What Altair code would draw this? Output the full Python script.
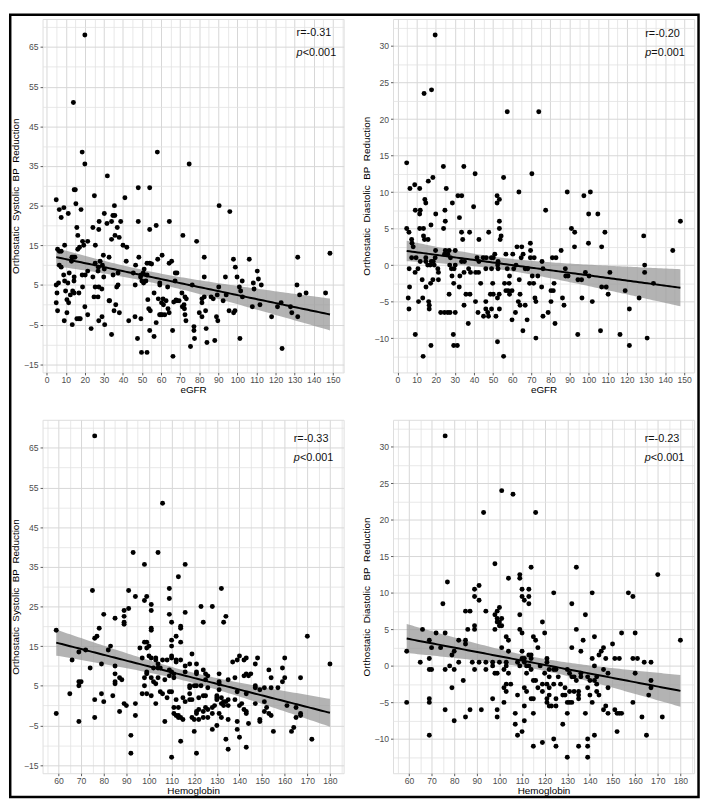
import altair as alt
import numpy as np
import pandas as pd

# ---------------- data ----------------
# Panel A: eGFR vs orthostatic systolic BP reduction
egfr_sys_x = [20,14,18.6,20,5,14.4,15,31.8,25,6.6,
    7.6,9,11.3,15.3,18,41,48,54,58,74.7,
    90.4,96,35.5,30.2,27.5,34,34.7,35.7,31.6,38.8,
    48,64.3,57.4,54,37,27.3,24.2,15.8,16.3,35.8,
    38,34,71.4,78.6,18.8,21.5,19.4,9.4,16.3,17.2,
    25.5,40,42,5.7,6.6,7.6,13.2,14,14.8,29.7,
    32.7,48.3,60.5,82.6,97.9,106.2,131.6,148.5,13,28,
    41.7,54,52.6,55,65.5,64.2,58.2,25.4,46.6,6.6,
    7.6,27.1,29.2,98.9,110.4,68.3,67.4,26.9,30.2,34.8,
    37.4,45.4,50.6,51.1,52.6,11.8,18.6,20.2,21.5,8.9,
    24.2,29.9,49.5,49.2,49.9,50.8,52,82.6,93.7,99.8,
    111,102.5,108.3,112.5,5,6.2,9.4,11.1,14.3,14.4,
    18.8,25.4,27.3,28.9,37.4,36.7,46.4,59.3,59.3,63.4,
    67.3,76.3,90.2,101,101.7,108.7,131.2,5.4,9.9,13.6,
    14.4,16.9,12.4,10.6,24.8,26.9,32.7,56.3,53,58.5,
    61,70.9,72.5,73.2,68.3,69.4,66.6,61.2,62.6,81.4,
    82.6,81.4,86.2,87.3,89.4,92.5,94.1,102.6,136,132.6,
    146.2,5,5.7,11.5,20,36.2,33,35.3,38.1,21.5,
    10.6,15.8,16.9,17.6,29,27.3,30.4,9.2,13.4,23.3,
    43,46.3,49.4,53.5,54.3,60.5,60.2,59.8,61.9,64.2,
    71.1,72.2,72,72.5,73,77.2,77.2,77.5,75.4,83.6,
    83.3,80,81.4,89,89.7,88.1,84,101.3,95.6,98,
    98.7,107.8,111.8,117.9,121,122.9,123.4,127.8,128.5,131.6,
    54,56.3,47.6,34,49.7,52.6,66.2,66,57.4,59.2,
    67.8,63.6]
egfr_sys_y = [68,51,38.5,35.5,26.5,29,29,32.5,27.5,24,
    22,24.5,23,25.5,24,27,29.5,29.5,38.5,35.5,
    25,23.5,25,23,21,21,22.5,22.5,20.5,21,
    21,21,20,19,19.5,19,19.5,19.5,17.5,17.5,
    17,16.5,17.5,16,16,16,15,15,14,14.5,
    15,15,14.5,14,13.5,13.5,12,12,12,12.5,
    12,12,12.5,12,11.5,11.5,12,13,11,11,
    11,10.5,10.5,10.3,11,10.5,11.5,10.5,10,10,
    9.5,9.5,10,9.5,8.5,8,8,8.5,9,7.5,
    8,8,8,9,7.5,8,7.5,7.5,8.5,7.5,
    7,7,7.5,7,6,5.5,6,7,7,7,
    6.5,6,5.5,5,5,5.5,6,5.5,6,7,
    4.5,4.5,4.5,4,5,4.5,5,5,5.5,4.5,
    6,5,4.5,4.5,3.5,4,5,3,3.5,3.5,
    3,3,2.5,1.3,2,2,1,3,1.3,1.5,
    1.5,3,2,1.5,1,1,0.7,0,1,1.5,
    2,0.5,2,1.5,2.5,1,2.5,2,3,2.5,
    3,0.5,-1.5,0.5,-0.5,0,1,-1.5,-2,-2.5,
    -2,-3.5,-3.5,-3.5,-3,-4,-5,-4,-5,-6,
    -4,-3,-3.5,-1,-1.5,-2.5,0.5,-2.5,-2.5,-2,
    -0.5,-1,0,-2.5,-4,-5.5,-6.5,-8.5,-10.5,-6,
    -1.5,-2,-3,-3,-4,-9,-9.5,-8.5,-1.5,-2,
    -1.5,-0.5,0,-3,-0.5,0.5,-11,-0.5,-2,-3,
    -6.5,-8,-8.5,-7.5,-12,-12,-13,-6.5,-4.5,-2.5,
    1.2,-1]

# Panel B: eGFR vs orthostatic diastolic BP reduction
egfr_dia_x = [19.7,13.9,17.8,57.4,73.9,4.8,24,34.7,40.6,70.3,
    55.5,18.5,16.1,9,6.5,11.6,25.5,63.5,88.8,100.9,
    97.5,14.3,14.8,31.6,33.6,52.1,53.3,52.1,28.7,39.8,
    77.5,9.3,11.9,11.6,20,24.8,100,104.8,32.4,25,
    53.3,148,4.8,6,11.6,13.6,17.5,13.6,14.1,16,
    7.4,7.6,8.2,24.1,33.5,34.1,37.7,47.7,42.6,53.3,
    54.2,53.7,91,92.7,92.6,99.9,108.5,128.8,144,62.5,
    65,69.5,85.6,106.8,19.9,25,27,30.2,7.4,9.7,
    14.8,14.8,11.9,17.7,18.7,19.7,24.6,26.3,27.7,33.5,
    35,41.6,42.6,44.8,46.4,49.1,50.1,50.9,52.6,56.7,
    60.3,65.7,64.7,69.6,69.5,71.5,75.6,81,82.9,6.1,
    9.2,10.7,15.8,17.1,19.2,21.1,21.4,27.3,28.2,28.5,
    29.6,30.2,32.6,34.8,37.2,38.2,40.9,42.4,46.2,49.2,
    52.4,52.6,57.4,60.8,58.6,62,66.8,68.1,70.5,73.4,
    76.1,87.8,89.2,88,98.3,100.2,111.1,5.6,6,6.3,
    12.9,14.9,13.2,11,16.3,16.6,16.6,17.3,18.5,21.4,
    22.6,24.6,26.3,27.5,29.4,30.2,27,32.3,34.8,35.8,
    37,37.9,40.8,42.1,43.5,45,46.2,46.2,47.2,47.6,
    48.6,49.8,49.2,50.1,51.5,52.3,53.2,53.3,52.3,56,
    56.7,57.9,58.4,58.6,59.9,59.9,61.7,63.7,64.1,63.2,
    64.1,65.6,66.8,67.8,69.1,71.2,71.9,72.4,72.4,75.4,
    76.1,78.8,80.3,81.5,81.9,80.3,82.4,86.3,87.1,94.3,
    94.4,96.3,96.5,101.9,106.2,106.8,109.2,110.2,116.4,119.1,
    121.3,121.3,126.4,129.3,130.6,133.9,129.3,9.3,13.4,17.5,
    29.2,29.4,31.3,55.5]
egfr_dia_y = [31.5,23.5,24,21,21,14,13.5,13.5,12.5,12.5,
    12,12,11.5,11,10.5,10.5,10.5,10,10,10,
    9.5,9,8.5,9.5,9.5,9.5,9,8.5,8.5,8,
    7.5,7.5,7.5,7,7,7.5,7,7,6.5,6,
    6,6,5,4.5,5,5,5.5,4,3.5,3.5,
    3.5,3,2.5,5,4.5,3.5,4.5,4.5,3.5,5,
    4,3.5,5,4.5,2.5,3,4.5,4,2,2.5,
    2.5,3,2,2.5,2,2,2,2,1,1,
    1,0.5,0.5,0.5,0.5,1,1.5,1.5,1,0.5,
    0.5,1,0.5,1,1,1,1,1.5,0.5,1.5,
    1.5,1.5,1,2,1,1,0.5,1,1,-0.5,
    -1,-0.5,0,0,0,-0.5,-1,0,-0.5,-1.5,
    -0.5,0,-1.5,-1,-0.5,-1,-1,-1,-0.5,-0.5,
    0,-0.5,-0.5,-0.5,-1.5,0,-0.5,-0.5,-1.5,-1.5,
    -0.5,-0.5,-1.5,-1.5,-1,-1.5,-1,-4.5,-6,-3,
    -2,-3,-4.5,-5,-5,-5.5,-6,-2.5,-2,-2,
    -6.5,-6.5,-6.5,-6.5,-2.5,-6.5,-4,-3,-5.5,-4,
    -8,-4,-5,-6.5,-2.5,-7,-6,-5,-6.5,-7,
    -4,-2.5,-6,-4,-7,-4.5,-4,-6,-10.5,-2.5,
    -3.5,-3.5,-2.5,-4,-3.5,-7.5,-6.5,-2,-4,-5,
    -5.5,-9,-5.5,-7.5,-2.5,-2.5,-4.5,-10,-5,-3,
    -7,-6.5,-3.5,-3.5,-2.5,-5,-8,-4.5,-5.5,-9.5,
    -2,-2,-4.5,-5,-9,-3,-3,-4,-9.5,-3.5,
    -6,-11,-4.5,-1,-10,-2.5,0,-9.5,-12.5,-11,
    -9.5,-11,-11,-12.5]

# Panel C: hemoglobin vs orthostatic systolic BP reduction
hb_sys_x = [76,106,93,104,98,116,113,75,91,132,
    109,99,94,98,109,91,101,123,128,89,
    101,116,80,109,89,134,85,133,110,124,
    89,89,114,114,101,101,78,59,112,170,
    77,76,110,114,98,99,83,100,110,99,
    96,82,72,69,119,100,110,110,108,103,
    103,106,112,112,114,97,101,66,137,139,
    140,142,143,148,160,180,147,121,116,104,
    79,85,118,74,159,153,124,99,99,102,
    104,105,109,110,116,121,121,125,131,85,
    87,138,143,144,145,142,167,154,160,135,
    88,101,107,109,111,111,85,85,98,102,
    104,69,70,69,103,118,120,121,123,131,
    131,125,126,147,147,149,151,154,157,159,
    131,118,98,97,99,79,65,105,106,109,
    110,118,139,143,126,124,125,122,118,115,
    119,130,130,132,130,133,135,134,138,80,
    76,108,112,116,101,84,103,89,90,94,
    132,133,135,141,147,151,161,129,128,140,
    142,143,143,111,113,125,126,124,122,121,
    121,128,131,119,114,115,111,112,113,113,
    107,87,94,59,76,69,120,122,124,126,
    128,130,132,135,139,140,139,144,149,149,
    154,153,152,151,165,165,167,167,164,163,
    172,155,120,134,135,143,114,110,121,92,92]
hb_sys_y = [68,51,38.6,38.6,35.6,35.6,32.5,29,29,29.5,
    29.5,27.5,27.5,26.5,27,24.5,25.5,25,25,24,
    24,23.5,23,23,22.5,22.5,22,21,21,21,
    21,20.5,20,19.5,19.5,19,19.5,19,17.5,17.5,
    17.5,17,16.5,16,16,16,15,15,15,14.5,
    14.5,14,14,13.5,13,12.5,12.5,12,11.5,12,
    11.5,11.5,11.5,11,11.5,12,12,11.5,11,11.5,
    12.5,11.5,12,12,12,10.5,10.5,10.5,10,10.5,
    10.5,10,10.5,9.5,9.5,9,9,8.5,8,9.5,
    9.5,9.5,9,8.5,8.5,8.5,8,8,8,8,
    7,7,8,7.5,8,7.5,7,7,7,6.5,
    6.5,7,6.5,7.5,8,7,6,5.5,7,6,
    7,6,6,5,5.5,5,5,5,5,5.5,
    6,6.5,7.5,5,4.5,4,4.5,4.5,4.5,6,
    4,4.5,5,3,3,3,3,3.5,3,3.5,
    3.5,3,3.5,3,4.5,2.5,2.5,2,1.5,2,
    1.5,2.5,2,2,1.5,1,1.5,1,1.5,1,
    1.5,2,1.5,1,2.5,2.5,0.5,0.5,0,0.5,
    0.5,0,0,0.5,0.5,1,0,0,-0.5,0,
    -1,-1.5,-2,-0.5,-0.5,-0.5,-1,-1.5,-1,-2,
    -1.5,-2,-2,-3,-3,-3.5,-2,-2.5,-2.5,-3,
    -4,-1.5,-2.5,-2,-3,-4,-3.5,-3.5,-3,-3,
    -6,-5,-3,-3.5,-6,-8,-4,-4.5,-3.5,-4,
    -2.5,-2,-0.5,-1.5,-0.5,-3,-2,-2.5,-5.5,-6.5,
    -8.5,-6.5,-6.5,-8.5,-11,-10.5,-9,-13,-12,-7.5,-12]

# Panel D: hemoglobin vs orthostatic diastolic BP reduction
hb_dia_x = [76,101,106,93,116,98,114,134,170,109,
    109,104,77,91,89,110,113,124,141,157,
    159,89,110,113,111,91,113,75,132,100,
    99,85,87,94,138,109,98,99,101,99,
    100,101,100,119,89,66,89,86,98,109,
    110,134,115,142,154,160,72,76,103,104,
    116,120,137,85,85,69,82,150,101,117,
    132,136,146,104,110,113,114,145,144,74,
    79,80,70,59,114,110,111,121,121,141,
    147,159,161,151,153,65,69,82,88,91,
    94,97,100,103,108,111,112,109,113,118,
    114,122,124,125,78,97,99,98,102,103,
    104,112,120,142,146,148,160,164,167,69,
    70,80,94,89,76,130,131,132,133,134,
    136,136,139,140,143,142,143,116,115,119,
    121,122,124,126,127,117,119,122,129,131,
    133,135,135,143,144,140,139,148,103,102,
    103,105,111,112,114,115,121,122,121,123,
    122,125,125,128,129,131,132,130,135,130,
    128,138,141,146,147,148,151,152,153,154,
    159,166,167,167,163,172,165,152,142,139,
    139,139,130,135,125,124,119,115,110,108,
    107,107,111,111,115,108,102,97,99,99,
    92,87,85,80,79,84,76,69,69,69,
    59,180]
hb_dia_y = [31.5,24,23.5,21,21,14,13.5,13.5,12.5,12.5,
    12,12,11.5,11,10.5,10.5,10.5,10,10,10,
    9.5,9.5,9.5,9.5,9,9,8.5,8.5,8.5,8,
    7.5,7.5,7.5,7.5,7,7,7,6.5,6.5,6,
    6,5.5,5.5,6,5.5,5,5,5,5,5,
    4.5,5,4,4,4.5,4.5,4.5,4.5,4,3.5,
    3.5,4.5,3.5,3.5,3,3.5,3.5,3,2.5,2.5,
    2.5,2,2.5,2,2,1.5,1.5,2,1.5,2.5,
    1.5,2,2.5,2,1,1,1,1,0.5,1,
    1,1,1,1,1,0.5,1,0.5,0.5,0.5,
    0.5,0.5,0.5,0.5,0.5,0.5,0,0,0,0,
    -0.5,-0.5,-0.5,-0.5,0,0,-1,-1,-0.5,0,
    -1,-1,-1,0,-0.5,-1,-1,0.5,0.5,-0.5,
    -0.5,-0.5,-0.5,-0.5,-0.5,-0.5,-1,-1.5,-1.5,-2,
    -1,-1.5,-1.5,-2,-1.5,-2,-2.5,-2,-2,-2.5,
    -2.5,-1.5,-2.5,-1.5,-2.5,-3,-3.5,-3,-3,-3.5,
    -3.5,-3.5,-4,-3.5,-4,-4,-3,-3,-2.5,-3,
    -3.5,-2.5,-3,-3.5,-4.5,-4.5,-4.5,-4,-5,-5.5,
    -5.5,-5.5,-4.5,-4,-4,-5,-5,-5,-4.5,-6.5,
    -8,-6.5,-5,-6,-5.5,-6.5,-6,-6.5,-6.5,-6.5,
    -5,-4,-3,-2,-7,-7,-9.5,-9,-9.5,-10,
    -11,-12.5,-12.5,-11,-11,-10,-10.5,-11,-9,-9.5,
    -8,-6.5,-7.5,-5.5,-6.5,-4,-5,-4.5,-6,-7,
    -6,-6,-7,-7.5,-3,-2,-6,-4.5,-5,-9.5,
    -5,3.5]

# annotation texts
r_labels = ["r=-0.31", "r=-0.20", "r=-0.33", "r=-0.23"]
p_labels = ["<0.001", "=0.001", "<0.001", "<0.001"]
x_titles = ["eGFR", "eGFR", "Hemoglobin", "Hemoglobin"]
y_titles = ["Orthostatic\u00a0 Systolic\u00a0 BP\u00a0 Reduction",
            "Orthostatic\u00a0 Diastolic\u00a0 BP\u00a0 Reduction",
            "Orthostatic\u00a0 Systolic\u00a0 BP\u00a0 Reduction",
            "Orthostatic\u00a0 Diastolic\u00a0 BP\u00a0 Reduction"]
# annotation anchor (data units): x, y of r line, y of p line
ann_x = [131, 129.6, 164, 164.2]
ann_ry = [68.4, 31.7, 67.2, 31.0]
ann_py = [63.5, 29.1, 62.5, 28.45]

# axis tick values (major + minor grid)
egfr_ticks = list(range(0, 160, 5))
hb_ticks = list(range(55, 190, 5))
sys_ticks = list(range(-15, 75, 5))
dia_ticks = [float(v) for v in np.arange(-12.5, 35, 2.5)]

FONT = "Liberation Sans"
PW, PH = 305, 358


def expand(vals):
    lo, hi = min(vals), max(vals)
    r = hi - lo
    return [lo - 0.05 * r, hi + 0.05 * r]


def band_df(xs, ys, n=100):
    x = np.asarray(xs, float)
    y = np.asarray(ys, float)
    b, a = np.polyfit(x, y, 1)
    g = np.linspace(x.min(), x.max(), n)
    fit = a + b * g
    resid = y - (a + b * x)
    s = np.sqrt((resid ** 2).sum() / (len(x) - 2))
    sxx = ((x - x.mean()) ** 2).sum()
    se = s * np.sqrt(1.0 / len(x) + (g - x.mean()) ** 2 / sxx)
    t = 1.97
    return pd.DataFrame({"x": g, "y": fit, "lo": fit - t * se, "hi": fit + t * se})


def make_axis(title, values, major, **kw):
    return alt.Axis(
        title=title, values=values, format="d",
        labelExpr=f"({major}) ? datum.label : ''",
        tickOpacity={"condition": {"test": major, "value": 1}, "value": 0},
        gridColor={"condition": {"test": major, "value": "#d6d6d6"}, "value": "#e2e2e2"},
        gridWidth={"condition": {"test": major, "value": 1}, "value": 0.8},
        grid=True, domain=False, labelOverlap=False, labelFlush=False,
        tickColor="#333333", tickSize=2.5, tickWidth=0.8,
        labelFont=FONT, labelFontSize=8.7, labelColor="#4d4d4d",
        titleFont=FONT, titleFontSize=10, titleFontWeight="normal", titleColor="#000000",
        **kw)


def panel(i, xs, ys, xvals, xmajor, yvals, ymajor, frame=False):
    df = pd.DataFrame({"x": xs, "y": ys})
    bd = band_df(xs, ys)
    xsc = alt.Scale(domain=expand(xs), nice=False, zero=False)
    ysc = alt.Scale(domain=expand(ys), nice=False, zero=False)
    xax = make_axis(x_titles[i], xvals, xmajor, labelPadding=1, titlePadding=0.5)
    yax = make_axis(y_titles[i], yvals, ymajor, labelPadding=2, titlePadding=3)

    band = alt.Chart(bd).mark_area(color="#999999", opacity=0.75).encode(
        x=alt.X("x:Q", scale=xsc, axis=xax),
        y=alt.Y("lo:Q", scale=ysc, axis=yax),
        y2="hi:Q")
    pts = alt.Chart(df).mark_circle(size=25, color="black", opacity=1).encode(
        x=alt.X("x:Q", axis=xax), y=alt.Y("y:Q", axis=yax))
    line = alt.Chart(bd).mark_line(color="black", strokeWidth=2).encode(
        x=alt.X("x:Q", axis=xax), y=alt.Y("y:Q", axis=yax))

    ann = pd.DataFrame({"x": [ann_x[i]], "y": [ann_ry[i]], "y2": [ann_py[i]],
                        "r": [r_labels[i]], "p": ["p"], "q": [p_labels[i]]})
    base_txt = dict(align="left", baseline="middle", font=FONT, fontSize=11, color="#111111")
    t_r = alt.Chart(ann).mark_text(**base_txt).encode(
        x=alt.X("x:Q", axis=xax), y=alt.Y("y:Q", axis=yax), text="r:N")
    t_p = alt.Chart(ann).mark_text(fontStyle="italic", **base_txt).encode(
        x=alt.X("x:Q", axis=xax), y=alt.Y("y2:Q", axis=yax), text="p:N")
    t_q = alt.Chart(ann).mark_text(dx=6.2, **base_txt).encode(
        x=alt.X("x:Q", axis=xax), y=alt.Y("y2:Q", axis=yax), text="q:N")

    layers = [band, pts, line, t_r, t_p, t_q]
    if frame:
        fr = alt.Chart(pd.DataFrame({"k": [0]})).mark_rect(
            filled=False, stroke="black", strokeWidth=2.5).encode(
            x=alt.value(-32.75), x2=alt.value(664.5),
            y=alt.value(-4.25), y2=alt.value(788))
        layers.append(fr)
    return alt.layer(*layers).properties(width=PW, height=PH)


X10 = "datum.value % 10 === 0"
SYS = "abs(datum.value) % 10 === 5"
DIA = "datum.value % 5 === 0"

p1 = panel(0, egfr_sys_x, egfr_sys_y, egfr_ticks, X10, sys_ticks, SYS, frame=True)
p2 = panel(1, egfr_dia_x, egfr_dia_y, egfr_ticks, X10, dia_ticks, DIA)
p3 = panel(2, hb_sys_x, hb_sys_y, hb_ticks, X10, sys_ticks, SYS)
p4 = panel(3, hb_dia_x, hb_dia_y, hb_ticks, X10, dia_ticks, DIA)

chart = alt.concat(p1, p2, p3, p4, columns=2,
                   spacing={"row": 48, "column": 50}, bounds="flush").properties(
    padding=0, background="white"
).configure_view(stroke="#666666", strokeWidth=1).configure_axis(
    labelOverlap=False, labelFlush=False
).configure(font=FONT)

chart.save("out.html", embed_options={"renderer": "svg", "actions": False})
